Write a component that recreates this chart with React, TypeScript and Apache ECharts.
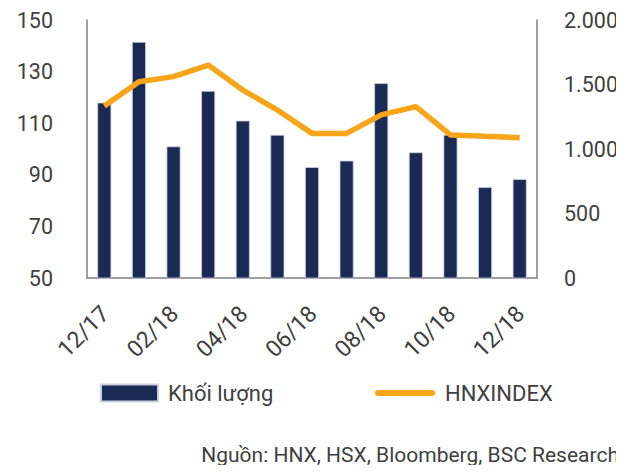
import React, { useEffect, useRef } from "react";
import * as echarts from "echarts";

const categories = ["12/17", "01/18", "02/18", "03/18", "04/18", "05/18", "06/18", "07/18", "08/18", "09/18", "10/18", "11/18", "12/18"];
const volume = [118, 141.5, 101, 122.5, 111, 105.5, 93, 95.5, 125.5, 98.7, 105.5, 85.2, 88.3];
const hnxIndex = [1333, 1522, 1561, 1651, 1457, 1302, 1121, 1121, 1264, 1328, 1109, 1098, 1088];
const leftTicks = [50, 70, 90, 110, 130, 150];
const rightTicks = [0, 500, 1000, 1500, 2000];

const FONT = "Roboto, 'Noto Sans', sans-serif";
const TEXT = "#404040";
const AXIS = "#7f7f7f";

export default function App() {
  const ref = useRef<HTMLDivElement>(null);
  useEffect(() => {
    if (!ref.current) return;
    const chart = echarts.init(ref.current, null, { renderer: "svg" });
    chart.setOption({
      animation: false,
      textStyle: { fontFamily: FONT },
      grid: [
        { left: 87, right: 87, top: 20, bottom: 195, containLabel: false },
        { left: 88, right: 86, top: 20, bottom: 195, containLabel: false },
      ],
      legend: [
        {
          data: [{ name: "Khối lượng", icon: "rect" }],
          left: 100,
          top: 382,
          padding: 0,
          itemWidth: 57,
          itemHeight: 17,
          textStyle: { fontSize: 22, color: TEXT, fontFamily: FONT, padding: [0, 0, 0, 5] },
        },
        {
          data: [{ name: "HNXINDEX", icon: "path://M3,0H57A3,3,0,0,1,57,6H3A3,3,0,0,1,3,0Z" }],
          left: 375,
          top: 382,
          padding: 0,
          itemWidth: 60,
          itemHeight: 6,
          textStyle: { fontSize: 22, color: TEXT, fontFamily: FONT, padding: [0, 0, 0, 5] },
        },
      ],
      graphic: [
        {
          type: "text",
          x: 619,
          y: 455,
          style: {
            text: "Nguồn: HNX, HSX, Bloomberg, BSC Research",
            fontSize: 21,
            fill: TEXT,
            fontFamily: FONT,
            align: "right",
            verticalAlign: "middle",
          },
        },
      ],
      xAxis: [
        {
          type: "category",
          data: categories,
          gridIndex: 0,
          axisLine: { lineStyle: { color: AXIS, width: 1.5 } },
          axisTick: { show: false },
          axisLabel: { show: false },
        },
        {
          type: "category",
          data: categories,
          gridIndex: 1,
          axisLine: { show: false },
          axisTick: { show: false },
          axisLabel: {
            interval: 1,
            rotate: 45,
            fontSize: 23,
            color: TEXT,
            fontFamily: FONT,
            margin: 32,
          },
        },
      ],
      yAxis: [
        {
          type: "value",
          gridIndex: 0,
          min: 50,
          max: 150,
          interval: 20,
          position: "left",
          axisLine: { show: true, lineStyle: { color: AXIS, width: 1.5 } },
          axisTick: { show: false },
          splitLine: { show: false },
          axisLabel: {
            fontSize: 21.5,
            color: TEXT,
            fontFamily: FONT,
            margin: 34,
            formatter: (v: number) => (leftTicks.includes(v) ? String(v) : ""),
          },
        },
        {
          type: "value",
          gridIndex: 0,
          min: 0,
          max: 2000,
          interval: 500,
          position: "right",
          axisLine: { show: true, lineStyle: { color: AXIS, width: 1.5 } },
          axisTick: { show: false },
          splitLine: { show: false },
          axisLabel: {
            fontSize: 21.5,
            color: TEXT,
            fontFamily: FONT,
            margin: 27,
            formatter: (v: number) =>
              rightTicks.includes(v) ? v.toLocaleString("en-US").replace(/,/g, ".") : "",
          },
        },
        {
          type: "value",
          gridIndex: 1,
          show: false,
        },
      ],
      series: [
        {
          name: "Khối lượng",
          type: "bar",
          data: volume,
          barWidth: 14,
          itemStyle: { color: "#1b2a55", borderColor: "#c9cfe0", borderWidth: 0.8 },
        },
        {
          name: "HNXINDEX",
          type: "line",
          yAxisIndex: 1,
          data: hnxIndex,
          symbol: "none",
          lineStyle: { color: "#f9a51a", width: 5.5 },
          itemStyle: { color: "#f9a51a" },
        },
      ],
    });
    return () => chart.dispose();
  }, []);
  return <div ref={ref} style={{ width: 624, height: 473, margin: -8 }} />;
}
